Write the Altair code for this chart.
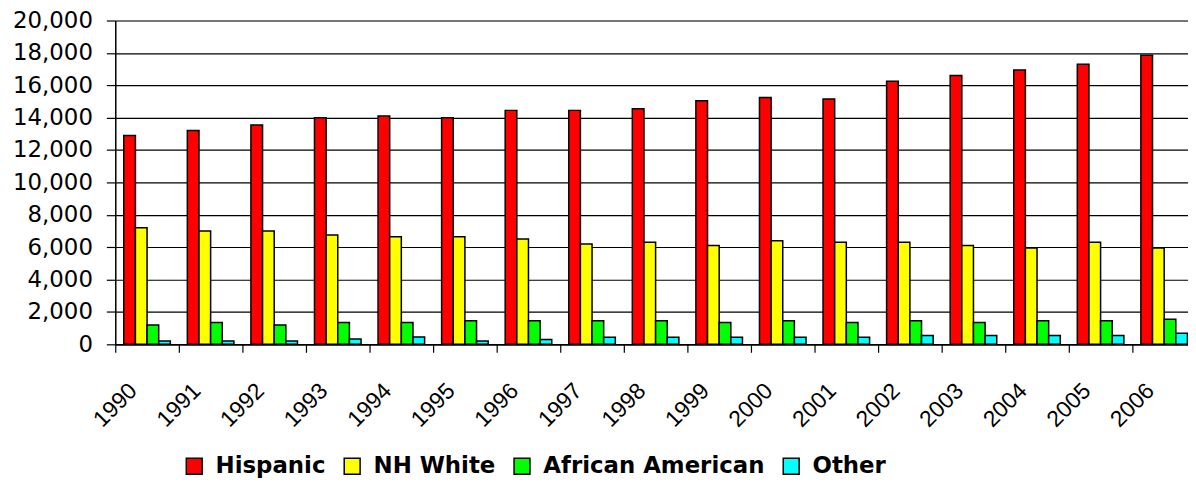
import altair as alt
import pandas as pd

years = [str(y) for y in range(1990, 2007)]
groups = ["Hispanic", "NH White", "African American", "Other"]
colors = ["#FF0000", "#FFFF00", "#00FF00", "#00FFFF"]

hispanic = [12900, 13200, 13550, 14000, 14100, 14000, 14450, 14450, 14550,
            15050, 15250, 15150, 16250, 16600, 16950, 17300, 17850]
nh_white = [7200, 7000, 7000, 6750, 6650, 6650, 6500, 6200, 6300,
            6100, 6400, 6300, 6300, 6100, 5950, 6300, 5950]
african_american = [1200, 1350, 1200, 1350, 1350, 1450, 1450, 1450, 1450,
                     1350, 1450, 1350, 1450, 1350, 1450, 1450, 1550]
other = [200, 200, 200, 330, 450, 200, 300, 430, 430,
         430, 430, 430, 550, 550, 550, 550, 680]

series = [hispanic, nh_white, african_american, other]
rows = []
for g, vals in zip(groups, series):
    for y, v in zip(years, vals):
        rows.append({"year": y, "group": g, "value": v})
df = pd.DataFrame(rows)

chart = alt.Chart(df).mark_bar(stroke="black", strokeWidth=1.5).encode(
    x=alt.X(
        "year:N", sort=years,
        scale=alt.Scale(range=[0, 1088], paddingInner=0, paddingOuter=0),
        axis=alt.Axis(
            title=None, tickBand="extent", grid=False,
            domainColor="black", domainWidth=1.5,
            tickColor="black", tickSize=8, tickWidth=1.2,
            labelAngle=315, labelAlign="right", labelBaseline="top",
            labelFont="Liberation Sans", labelFontSize=23, labelColor="black",
            labelOffset=-22, labelPadding=27,
        ),
    ),
    xOffset=alt.XOffset(
        "group:N", sort=groups,
        scale=alt.Scale(paddingInner=0, paddingOuter=0.73),
    ),
    y=alt.Y(
        "value:Q",
        scale=alt.Scale(domain=[0, 20000], nice=False),
        axis=alt.Axis(
            title=None, values=list(range(0, 20001, 2000)), format=",d",
            grid=True, gridColor="black", gridWidth=1.2, gridOpacity=1,
            domainColor="black", domainWidth=1.5,
            tickColor="black", tickSize=9, tickWidth=1.2,
            labelFont="DejaVu Sans", labelFontSize=23, labelColor="black",
            labelPadding=14,
        ),
    ),
    color=alt.Color(
        "group:N", sort=groups,
        scale=alt.Scale(domain=groups, range=colors),
        legend=alt.Legend(
            title=None, orient="none", legendX=68, legendY=437,
            direction="horizontal", symbolType="square", symbolSize=256,
            symbolStrokeColor="black", symbolStrokeWidth=1.5, symbolOpacity=1,
            labelFont="DejaVu Sans", labelFontSize=23, labelFontWeight="bold",
            labelColor="black", labelLimit=400, labelOffset=10,
            columnPadding=15, padding=0,
        ),
    ),
).properties(
    width=1080, height=326,
    autosize=alt.AutoSizeParams(type="none"),
    padding={"left": 108, "top": 11, "right": 0, "bottom": 136},
).configure_view(stroke=None).configure(background="white")

chart.save("out.html", embed_options={"renderer": "svg", "actions": False})
